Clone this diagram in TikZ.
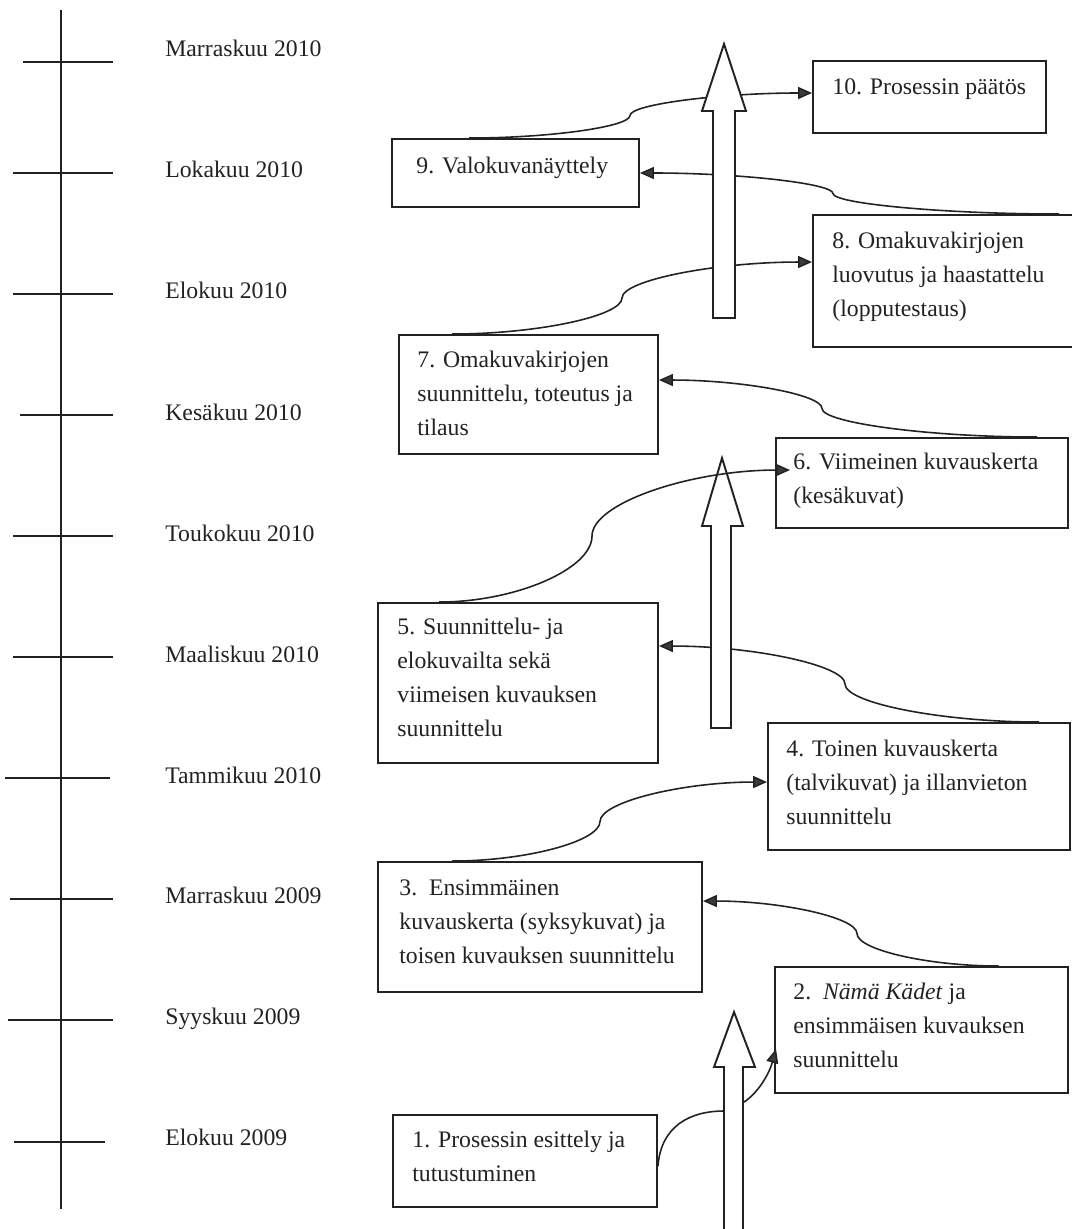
\documentclass[tikz,border=0pt]{standalone}
\usepackage{fontspec}
\setmainfont{Liberation Serif}
\usetikzlibrary{calc,fit,arrows.meta}
\definecolor{ink}{HTML}{222222}
\definecolor{tipgray}{HTML}{3A3A3A}

% S-shaped connector: horizontal at both ends, vertical at the kink x
\newcommand\kinkline[3]{%
  \draw[conn] let \p1=#1, \p2=#3, \p3=#2 in
    (\p1) .. controls ({(\x1+\x3)/2},\y1) and (\x3,{\y1+(\y2-\y1)/4}) ..
    (\x3,{(\y1+\y2)/2}) .. controls (\x3,{\y1+3*(\y2-\y1)/4}) and ({(\x3+\x2)/2},\y2) .. (\p2);}

% hollow upward block arrow: shaft x-range, shaft bottom, shoulder y, head x-range, tip
\newcommand\hollowarrow[8]{%
  \draw[bigarr] (#1,#3) -- (#1,#4) -- (#5,#4) -- (#7,#8) -- (#6,#4) -- (#2,#4) -- (#2,#3) -- cycle;}

\begin{document}
\begin{tikzpicture}[x=0.02cm,y=-0.02cm,
  axis/.style={draw=ink,line width=1.1pt},
  box/.style={draw=ink,line width=1.1pt,inner sep=0pt},
  txt/.style={font=\fontsize{13.5}{19.35}\selectfont,text=ink,inner sep=0pt,align=left,anchor=north west},
  lbl/.style={font=\fontsize{13.5}{19.35}\selectfont,text=ink,inner sep=0pt,anchor=base west},
  conn/.style={draw=ink,line width=0.9pt,-{Triangle[length=2.8mm,width=2.4mm,fill=tipgray]}},
  bigarr/.style={draw=ink,line width=1.1pt,fill=white,line join=miter}]

\useasboundingbox (0,0) rectangle (1071,1229);

% time axis
\coordinate (axtop) at (61,10);
\coordinate (axbot) at (61,1209);
\draw[axis] (axtop) -- (axbot);
\draw[axis] (23,62) -- (113,62);
\draw[axis] (13,173) -- (113,173);
\draw[axis] (13,294) -- (113,294);
\draw[axis] (20,415) -- (113,415);
\draw[axis] (13,536) -- (113,536);
\draw[axis] (13,657) -- (113,657);
\draw[axis] (5,778) -- (110,778);
\draw[axis] (10,899) -- (113,899);
\draw[axis] (8,1020) -- (113,1020);
\draw[axis] (14,1142) -- (105,1142);

\node[lbl] (l1) at (165,57) {Marraskuu 2010};
\node[lbl] (l2) at (165,178) {Lokakuu 2010};
\node[lbl] (l3) at (165,299) {Elokuu 2010};
\node[lbl] (l4) at (165,420) {Kesäkuu 2010};
\node[lbl] (l5) at (165,541) {Toukokuu 2010};
\node[lbl] (l6) at (165,662) {Maaliskuu 2010};
\node[lbl] (l7) at (165,783) {Tammikuu 2010};
\node[lbl] (l8) at (165,903) {Marraskuu 2009};
\node[lbl] (l9) at (165,1024) {Syyskuu 2009};
\node[lbl] (l10) at (165,1145) {Elokuu 2009};

% phase boxes
\node[box,fit={(813,61) (1046,133)}] (b10) {};
\node[box,fit={(392,139) (639,207)}] (b9) {};
\node[box,fit={(813,215) (1085,347)}] (b8) {};
\node[box,fit={(399,335) (658,454)}] (b7) {};
\node[box,fit={(776,438) (1068,528)}] (b6) {};
\node[box,fit={(378,603) (658,763)}] (b5) {};
\node[box,fit={(768,723) (1070,850)}] (b4) {};
\node[box,fit={(378,862) (702,992)}] (b3) {};
\node[box,fit={(775,967) (1068,1093)}] (b2) {};
\node[box,fit={(393,1115) (657,1207)}] (b1) {};

\node[txt] (t10) at ($(b10.north west)+(20,10)$) {\strut 10. Prosessin päätös};
\node[txt] (t9) at ($(b9.north west)+(25,11)$) {\strut 9. Valokuvanäyttely};
\node[txt] (t8) at ($(b8.north west)+(20,10)$) {\strut 8. Omakuvakirjojen\\luovutus ja haastattelu\\(lopputestaus)};
\node[txt] (t7) at ($(b7.north west)+(19,9)$) {\strut 7. Omakuvakirjojen\\suunnittelu, toteutus ja\\tilaus};
\node[txt] (t6) at ($(b6.north west)+(18,8)$) {\strut 6. Viimeinen kuvauskerta\\(kesäkuvat)};
\node[txt] (t5) at ($(b5.north west)+(20,8)$) {\strut 5. Suunnittelu- ja\\elokuvailta sekä\\viimeisen kuvauksen\\suunnittelu};
\node[txt] (t4) at ($(b4.north west)+(19,10)$) {\strut 4. Toinen kuvauskerta\\(talvikuvat) ja illanvieton\\suunnittelu};
\node[txt] (t3) at ($(b3.north west)+(22,10)$) {\strut 3.\ \ Ensimmäinen\\kuvauskerta (syksykuvat) ja\\toisen kuvauksen suunnittelu};
\node[txt] (t2) at ($(b2.north west)+(19,9)$) {\strut 2.\ \ \textit{Nämä Kädet} ja\\ensimmäisen kuvauksen\\suunnittelu};
\node[txt] (t1) at ($(b1.north west)+(20,9)$) {\strut 1. Prosessin esittely ja\\tutustuminen};

% connectors passing behind the block arrows
\kinkline{($(b9.north west)+(78,0)$)}{(630,0)}{($(b10.west)+(0,-4)$)}
\kinkline{($(b8.north west)+(247,0)$)}{(833,0)}{(b9.east)}
\kinkline{($(b7.north west)+(54,0)$)}{(622,0)}{($(b8.north west)+(0,48)$)}
\kinkline{($(b6.north west)+(262,0)$)}{(822,0)}{($(b7.north east)+(0,46)$)}
\kinkline{($(b4.north west)+(272,0)$)}{(845,0)}{($(b5.north east)+(0,44)$)}
\kinkline{($(b3.north west)+(75,0)$)}{(600,0)}{($(b4.north west)+(0,60)$)}
\kinkline{($(b2.north west)+(225,0)$)}{(857,0)}{($(b3.north east)+(0,40)$)}

\coordinate (s8) at ($(b1.north east)+(0,52)$);
\coordinate (m8a) at (724,1111);
\coordinate (m8b) at (744,1102);
\coordinate (e8) at ($(b2.north west)+(2,83)$);
\draw[conn] (s8) .. controls ($(s8)+(3,-40)$) and ($(m8a)+(-34,0)$) .. (m8a) -- (m8b)
  .. controls ($(m8b)+(14,-9)$) and ($(e8)+(-7,25)$) .. (e8);

% block arrows
\hollowarrow{713}{735}{318}{111}{702}{746}{724}{44}
\hollowarrow{711}{731}{728}{526}{702}{743}{722}{458}
\hollowarrow{724}{743}{1245}{1067}{714}{755}{734}{1012}

% connector drawn over the middle block arrow
\kinkline{($(b5.north west)+(62,0)$)}{(592,0)}{($(b6.north west)+(15,33)$)}

\end{tikzpicture}
\end{document}
